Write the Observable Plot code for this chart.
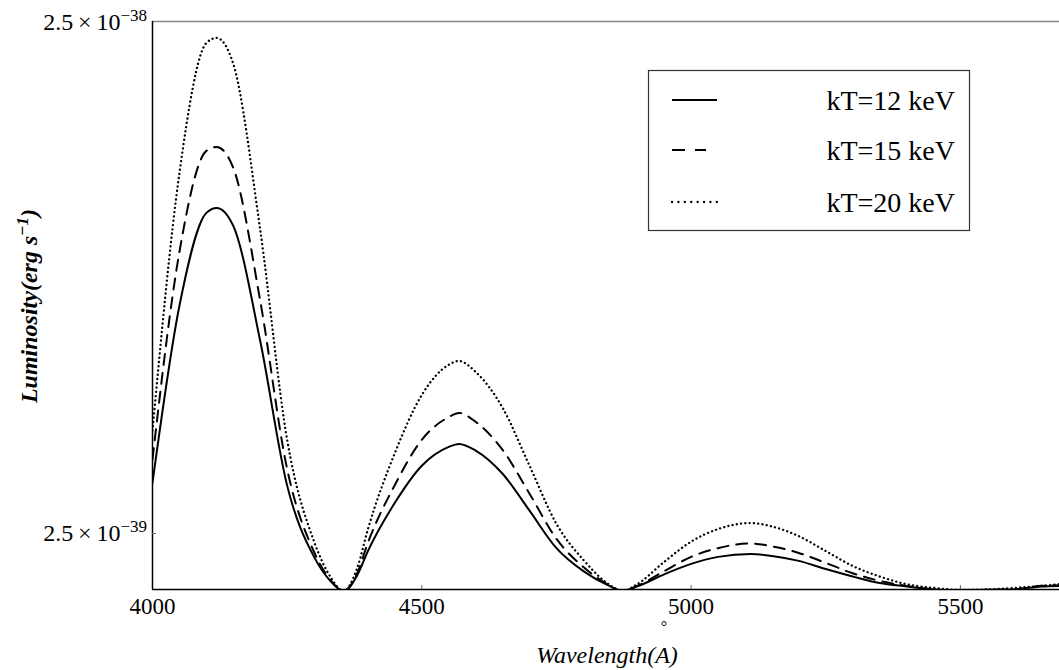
<!DOCTYPE html>
<html>
<head>
<meta charset="utf-8">
<script src="https://cdn.jsdelivr.net/npm/d3@7"></script>
<script src="https://cdn.jsdelivr.net/npm/@observablehq/plot@0.6"></script>
<style>
  html, body { margin: 0; padding: 0; background: #fff; }
  #chart { width: 1059px; height: 670px; }
  #chart svg text { font-family: "Liberation Serif", "Times New Roman", serif !important; }
</style>
</head>
<body>
<div id="chart"></div>
<script>
// Wavelength (Å)
const wavelength = [4000,4050,4100,4119,4150,4200,4250,4300,4330,4355,4380,4400,4450,4500,4550,4569,4600,4650,4700,4750,4800,4850,4872,4900,4950,5000,5050,5111,5150,5200,5250,5300,5350,5400,5450,5500,5550,5600,5650,5684];
// Luminosity in units of 1e-39 erg s^-1
const kT12 = [3.14,6.96,10.57,10.81,9.97,5.94,3.10,2.25,2.02,1.93,2.07,2.31,2.87,3.39,3.69,3.74,3.63,3.27,2.77,2.34,2.11,1.97,1.93,1.97,2.08,2.18,2.25,2.28,2.26,2.21,2.13,2.06,2.00,1.97,1.944,1.935,1.94,1.944,1.97,1.975];
const kT15 = [3.49,8.87,13.97,14.22,12.94,7.12,3.34,2.30,2.03,1.93,2.09,2.40,3.11,3.81,4.22,4.30,4.13,3.64,2.99,2.44,2.15,1.975,1.93,1.975,2.11,2.25,2.34,2.39,2.36,2.29,2.19,2.09,2.02,1.975,1.944,1.935,1.94,1.944,1.975,1.98];
const kT20 = [3.97,12.65,22.70,23.22,20.66,9.79,3.81,2.41,2.06,1.93,2.14,2.55,3.59,4.66,5.34,5.43,5.17,4.40,3.39,2.61,2.22,1.98,1.93,1.99,2.20,2.41,2.55,2.62,2.58,2.47,2.31,2.16,2.06,1.99,1.957,1.94,1.944,1.957,1.975,1.99];
const seriesLabels = ["kT=12 keV", "kT=15 keV", "kT=20 keV"];
const xTicks = [4000, 4500, 5000, 5500];
const yTicks = [2.5, 25];           // in units of 1e-39
const yTickMantissa = ["2.5", "2.5"];
const yTickExponent = ["\u221239", "\u221238"];
const xDomain = [4000, 5684];
const yDomain = [1.943, 25];

const series = [kT12, kT15, kT20];
const rows = series.map(vals => wavelength.map((w, i) => ({w, L: vals[i]})));

const font = "Liberation Serif";

const plot = Plot.plot({
  width: 1059,
  height: 670,
  marginLeft: 152,
  marginRight: 0,
  marginTop: 21,
  marginBottom: 81,
  style: {fontFamily: font, background: "#fff", color: "#000"},
  x: {domain: xDomain},
  y: {type: "log", domain: yDomain},
  marks: [
    Plot.ruleY([yDomain[1]], {stroke: "#888", strokeWidth: 1.5}),
    Plot.ruleX([xDomain[0]], {stroke: "#000", strokeWidth: 1.5}),
    Plot.ruleY([yDomain[0]], {stroke: "#000", strokeWidth: 1.5}),
    Plot.tickX(xTicks.slice(1), {stroke: "#666", insetTop: 564}),
    Plot.tickY([yTicks[0]], {stroke: "#666", insetRight: 903}),
    Plot.axisX({ticks: xTicks, tickSize: 0, tickPadding: 8, fontSize: 23, fontFamily: font, label: null, tickFormat: d => String(d)}),
    Plot.axisY({ticks: [], tickSize: 0, label: null}),
    Plot.line(rows[0], {x: "w", y: "L", stroke: "#000", strokeWidth: 2, curve: "monotone-x", clip: true}),
    Plot.line(rows[1], {x: "w", y: "L", stroke: "#000", strokeWidth: 2, strokeDasharray: "11,8", curve: "monotone-x", clip: true}),
    Plot.line(rows[2], {x: "w", y: "L", stroke: "#000", strokeWidth: 2.3, strokeDasharray: "0.1,4.2", strokeLinecap: "round", curve: "monotone-x", clip: true})
  ]
});

document.getElementById("chart").appendChild(plot);

const svg = d3.select(plot);
const yScale = plot.scale("y");

function txt(sel) {
  return sel.attr("font-family", font).attr("fill", "#000");
}

// y tick labels with superscript exponents
yTicks.forEach((v, i) => {
  const y = yScale.apply(v);
  const t = txt(svg.append("text"))
    .attr("x", 147).attr("y", y + 8.5)
    .attr("text-anchor", "end").attr("font-size", 24);
  t.append("tspan").text(yTickMantissa[i] + "\u2009\u00d7\u200910");
  t.append("tspan").attr("dy", -9).attr("font-size", 17).text(yTickExponent[i]);
});

// x axis title
txt(svg.append("text"))
  .attr("x", 607).attr("y", 663).attr("text-anchor", "middle")
  .attr("font-size", 24).attr("font-style", "italic")
  .text("Wavelength(A)");
txt(svg.append("text"))
  .attr("x", 664).attr("y", 632).attr("text-anchor", "middle")
  .attr("font-size", 16)
  .text("\u00b0");

// y axis title
const yt = txt(svg.append("text"))
  .attr("transform", "translate(37,306) rotate(-90)")
  .attr("text-anchor", "middle")
  .attr("font-size", 24).attr("font-style", "italic").attr("font-weight", "bold");
yt.append("tspan").text("Luminosity(erg s");
yt.append("tspan").attr("dy", -9).attr("font-size", 17).text("\u22121");
yt.append("tspan").attr("dy", 9).text(")");

// legend
const lg = svg.append("g");
lg.append("rect").attr("x", 648.5).attr("y", 70.5).attr("width", 321).attr("height", 160)
  .attr("fill", "#fff").attr("stroke", "#333").attr("stroke-width", 1.2);
const legY = [100, 150, 202];
seriesLabels.forEach((lab, i) => {
  const ln = lg.append("line").attr("x1", 672).attr("x2", i === 1 ? 706 : 717)
    .attr("y1", legY[i]).attr("y2", legY[i]).attr("stroke", "#000").attr("stroke-width", 2);
  if (i === 1) ln.attr("stroke-dasharray", "13,10");
  if (i === 2) ln.attr("stroke-dasharray", "0.1,6.3").attr("stroke-linecap", "round").attr("stroke-width", 2.3);
  txt(lg.append("text")).attr("x", 955).attr("y", legY[i] + 9.5).attr("text-anchor", "end")
    .attr("font-size", 28).text(lab);
});
</script>
</body>
</html>
